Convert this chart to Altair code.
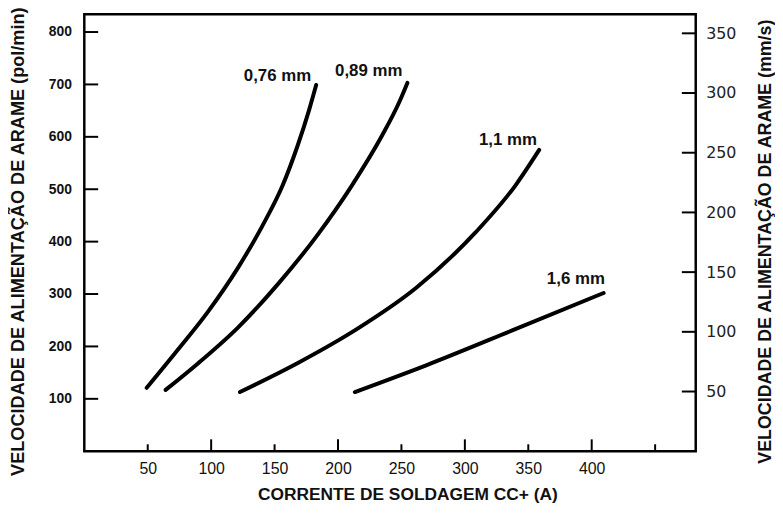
import altair as alt
import pandas as pd

# ---- data ----
c076_a = [49.2, 74.2, 97.7, 121.1, 140.6, 156.3, 168.0, 177.3, 182.8]
c076_v = [121, 195, 267, 350, 431, 507, 582, 652, 699]
c089_a = [64.1, 89.8, 121.1, 152.3, 183.6, 210.9, 234.4, 248.4, 254.7]
c089_v = [117, 168, 236, 318, 412, 507, 601, 667, 703]
c11_a = [122.7, 168.0, 214.8, 261.7, 308.6, 339.8, 358.6]
c11_v = [113, 168, 233, 312, 418, 507, 575]
c16_a = [213.3, 269.5, 339.8, 409.4]
c16_v = [113, 164, 233, 302]

label_text = ["0,76 mm", "0,89 mm", "1,1 mm", "1,6 mm"]
label_a = [152.3, 224.2, 334.0, 387.5]
label_v = [716, 726, 594, 329]

x_labels = [50, 100, 150, 200, 250, 300, 350, 400]
x_ticks_long = [100, 200, 300, 400]
x_ticks_short = [50, 150, 250, 350, 450]
left_ticks = [100, 200, 300, 400, 500, 600, 700, 800]
right_ticks = [50, 100, 150, 200, 250, 300, 350]

X_DOMAIN = [0, 482]
LEFT_DOMAIN = [0, 834]
RIGHT_DOMAIN = [0, 366]

rows = []
for name, aa, vv in [("0,76", c076_a, c076_v), ("0,89", c089_a, c089_v),
                     ("1,1", c11_a, c11_v), ("1,6", c16_a, c16_v)]:
    for a, v in zip(aa, vv):
        rows.append({"serie": name, "A": a, "v": v})
curves_df = pd.DataFrame(rows)
labels_df = pd.DataFrame({"txt": label_text, "A": label_a, "v": label_v})

xs = alt.Scale(domain=X_DOMAIN, nice=False, zero=False)
ys = alt.Scale(domain=LEFT_DOMAIN, nice=False, zero=False)
ys2 = alt.Scale(domain=RIGHT_DOMAIN, nice=False, zero=False)

W, H = 617, 441

x_axis = alt.Axis(
    values=x_labels, ticks=False, domain=False, grid=False,
    labelFont="'Liberation Sans Narrow', 'Liberation Sans', sans-serif",
    labelFontSize=16, labelColor="#111", labelPadding=9,
    title="CORRENTE DE SOLDAGEM CC+ (A)", titleFont="Liberation Sans",
    titleFontSize=17.5, titleFontWeight="bold", titleColor="#111",
    titleX=326, titleY=44, titleAlign="center", titleBaseline="middle")
y_axis = alt.Axis(
    values=left_ticks, ticks=False, domain=False, grid=False,
    labelFont="Liberation Sans", labelFontSize=14, labelFontWeight="bold",
    labelColor="#111", labelPadding=13,
    title="VELOCIDADE DE ALIMENTAÇÃO DE ARAME (pol/min)",
    titleFont="Liberation Sans", titleFontSize=18.3, titleFontWeight="bold",
    titleColor="#111", titleAngle=270, titleX=-66, titleY=229,
    titleAlign="center", titleBaseline="middle")
y2_axis = alt.Axis(
    orient="right", values=right_ticks, ticks=False, domain=False, grid=False,
    labelFont="DejaVu Sans", labelFontSize=16, labelColor="#222",
    labelPadding=10,
    title="VELOCIDADE DE ALIMENTAÇÃO DE ARAME (mm/s)",
    titleFont="Liberation Sans", titleFontSize=18, titleFontWeight="bold",
    titleColor="#111", titleAngle=270, titleX=70, titleY=229,
    titleAlign="center", titleBaseline="middle")

curves = alt.Chart(curves_df).mark_line(
    color="black", strokeWidth=4, interpolate="monotone", strokeCap="round"
).encode(
    x=alt.X("A:Q", scale=xs, axis=x_axis),
    y=alt.Y("v:Q", scale=ys, axis=y_axis),
    detail="serie:N",
)

labels = alt.Chart(labels_df).mark_text(
    font="Liberation Sans", fontSize=17, fontWeight="bold", color="#111",
    align="center", baseline="middle"
).encode(
    x=alt.X("A:Q", scale=xs, axis=x_axis),
    y=alt.Y("v:Q", scale=ys, axis=y_axis),
    text="txt:N",
)

lt = alt.Chart(pd.DataFrame({"v": left_ticks})).mark_rule(
    color="black", strokeWidth=2
).encode(
    y=alt.Y("v:Q", scale=ys, axis=y_axis),
    x=alt.value(0), x2=alt.value(14),
)

xtl = alt.Chart(pd.DataFrame({"A": x_ticks_long})).mark_rule(
    color="black", strokeWidth=2
).encode(
    x=alt.X("A:Q", scale=xs, axis=x_axis),
    y=alt.value(H), y2=alt.value(H - 12),
)
xts = alt.Chart(pd.DataFrame({"A": x_ticks_short})).mark_rule(
    color="black", strokeWidth=2
).encode(
    x=alt.X("A:Q", scale=xs, axis=x_axis),
    y=alt.value(H), y2=alt.value(H - 7),
)

left = alt.layer(curves, labels, lt, xtl, xts)

rt = alt.Chart(pd.DataFrame({"mm": right_ticks})).mark_rule(
    color="black", strokeWidth=2
).encode(
    y=alt.Y("mm:Q", scale=ys2, axis=y2_axis),
    x=alt.value(W - 14), x2=alt.value(W),
)

chart = alt.layer(left, rt).resolve_scale(y="independent").properties(
    width=W, height=H,
    autosize=alt.AutoSizeParams(type="none"),
    padding={"left": 77, "top": 4, "right": 80, "bottom": 53},
    background="white",
).configure_view(stroke="black", strokeWidth=2.5)

chart.save("out.html", embed_options={"renderer": "svg", "actions": False})
